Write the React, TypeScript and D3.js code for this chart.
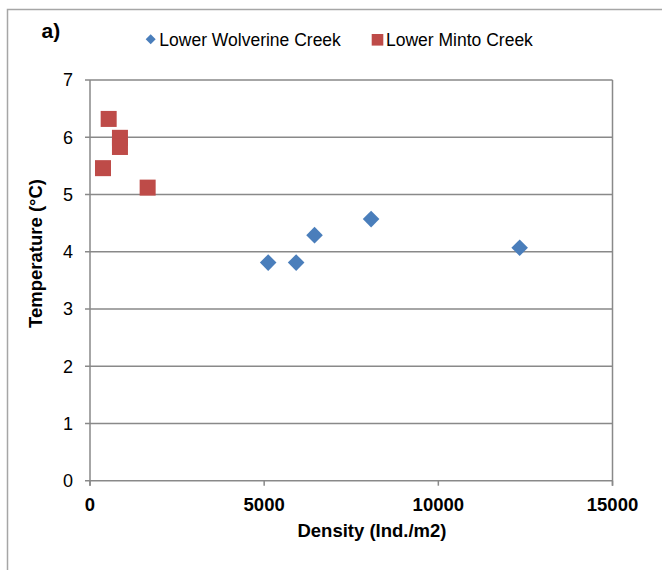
import React from "react";
import * as d3 from "d3";

const wolverineDensity = [5115, 5918, 6446, 8070, 12335];
const wolverineTemp = [3.81, 3.81, 4.29, 4.57, 4.07];
const mintoDensity = [536, 860, 860, 373, 1655];
const mintoTemp = [6.32, 5.99, 5.83, 5.46, 5.12];
const xTicks = [0, 5000, 10000, 15000];
const yTicks = [0, 1, 2, 3, 4, 5, 6, 7];
const seriesNames = ["Lower Wolverine Creek", "Lower Minto Creek"];

const FONT = "'Liberation Sans', Arial, sans-serif";
const BLUE = "#4a7ebb";
const RED = "#be4b48";
const GRID = "#898989";

export default function App() {
  const x = d3.scaleLinear().domain([0, 15000]).range([90, 612.5]);
  const y = d3.scaleLinear().domain([0, 7]).range([480.7, 80]);
  const diamond = (cx: number, cy: number, r: number) =>
    `M${cx},${cy - r}L${cx + r},${cy}L${cx},${cy + r}L${cx - r},${cy}Z`;

  return (
    <svg width={662} height={570} style={{ position: "absolute", left: 0, top: 0 }} fontFamily={FONT}>
      <rect x={0} y={0} width={662} height={570} fill="#fff" />
      <rect x={7.5} y={9.5} width={700} height={620} fill="none" stroke="#a6a6a6" strokeWidth={1.5} />
      <text x={41.5} y={37.5} fontSize={21} fontWeight="bold">a)</text>

      {/* legend */}
      <path d={diamond(150.7, 39.3, 5)} fill={BLUE} />
      <text x={159.3} y={45.7} fontSize={17.5}>{seriesNames[0]}</text>
      <rect x={371.7} y={34} width={11.6} height={11.6} fill={RED} />
      <text x={386} y={45.7} fontSize={17.5}>{seriesNames[1]}</text>

      {/* gridlines */}
      {yTicks.map((t) => (
        <line key={"g" + t} x1={x(0) - 5} x2={x(15000)} y1={y(t)} y2={y(t)} stroke={GRID} strokeWidth={1.5} />
      ))}
      <line x1={x(15000)} x2={x(15000)} y1={y(7)} y2={y(0) + 5} stroke={GRID} strokeWidth={1.5} />
      <line x1={x(0)} x2={x(0)} y1={y(7)} y2={y(0) + 5} stroke={GRID} strokeWidth={1.5} />
      {xTicks.map((t) => (
        <line key={"xt" + t} x1={x(t)} x2={x(t)} y1={y(0)} y2={y(0) + 5} stroke={GRID} strokeWidth={1.5} />
      ))}

      {/* tick labels */}
      {yTicks.map((t) => (
        <text key={"yl" + t} x={73} y={y(t)} dy="0.35em" textAnchor="end" fontSize={18}>{t}</text>
      ))}
      {xTicks.map((t) => (
        <text key={"xl" + t} x={x(t)} y={511} textAnchor="middle" fontSize={18.5} fontWeight="bold">{t}</text>
      ))}

      <text x={372} y={537} textAnchor="middle" fontSize={18.5} fontWeight="bold">Density (Ind./m2)</text>
      <text transform={`translate(42,253.5) rotate(-90)`} textAnchor="middle" fontSize={18.5} fontWeight="bold">Temperature (°C)</text>

      {/* data */}
      {wolverineDensity.map((d, i) => (
        <path key={"w" + i} d={diamond(x(d), y(wolverineTemp[i]), 8.3)} fill={BLUE} />
      ))}
      {mintoDensity.map((d, i) => (
        <rect key={"m" + i} x={x(d) - 8} y={y(mintoTemp[i]) - 8} width={16} height={16} fill={RED} />
      ))}
    </svg>
  );
}
